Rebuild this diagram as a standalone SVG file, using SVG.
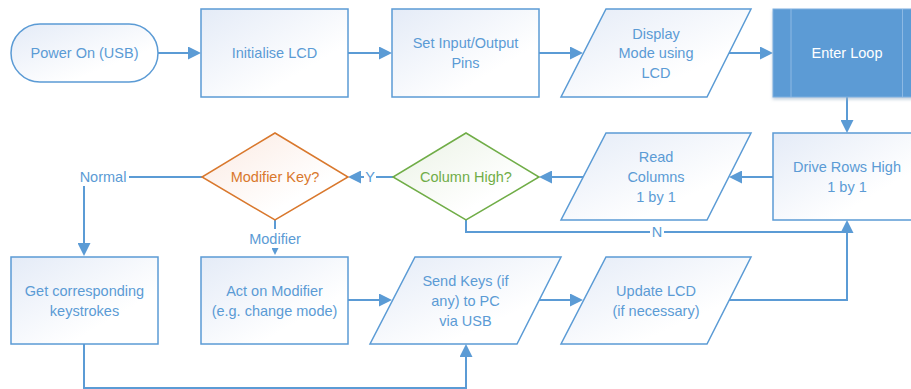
<svg xmlns="http://www.w3.org/2000/svg" width="911" height="389" viewBox="0 0 911 389">
  <defs>
    <linearGradient id="fillBlue" x1="0" y1="0" x2="1" y2="1">
      <stop offset="0" stop-color="#E4EBF7"/>
      <stop offset="0.7" stop-color="#FFFFFF"/>
    </linearGradient>
    <linearGradient id="fillOrange" x1="0" y1="0" x2="1" y2="1">
      <stop offset="0" stop-color="#FBEAE2"/>
      <stop offset="0.7" stop-color="#FFFFFF"/>
    </linearGradient>
    <linearGradient id="fillGreen" x1="0" y1="0" x2="1" y2="1">
      <stop offset="0" stop-color="#EAF2E4"/>
      <stop offset="0.7" stop-color="#FFFFFF"/>
    </linearGradient>
    <filter id="shadow" x="-10%" y="-10%" width="130%" height="140%">
      <feDropShadow dx="0" dy="2" stdDeviation="1.5" flood-color="#9DB3C8" flood-opacity="0.6"/>
    </filter>
    <marker id="arrow" markerUnits="userSpaceOnUse" markerWidth="13" markerHeight="13" refX="9" refY="6.5" orient="auto">
      <path d="M0,0 L13,6.5 L0,13 Z" fill="#5B9BD5"/>
    </marker>
    <marker id="arrowSmall" markerUnits="userSpaceOnUse" markerWidth="7" markerHeight="7" refX="4" refY="3.5" orient="auto">
      <path d="M0,0 L7,3.5 L0,7 Z" fill="#5B9BD5"/>
    </marker>
    <style>
      .box { fill: url(#fillBlue); stroke: #5B9BD5; stroke-width: 1.5; }
      .txt { font-family: "Liberation Sans", Arial, sans-serif; font-size: 14.5px; fill: #5B9BD5; text-anchor: middle; }
      .white { fill: #FFFFFF; }
      .orange { fill: #D9782D; }
      .green { fill: #70AD47; }
      .conn { fill: none; stroke: #5B9BD5; stroke-width: 2; }
      .arr { marker-end: url(#arrow); }
      .bg { fill: #FFFFFF; }
    </style>
  </defs>

  <g id="connectors">
    <path class="conn arr" d="M158,53 H197"/>
    <path class="conn arr" d="M348,53 H388"/>
    <path class="conn arr" d="M539,53 H579"/>
    <path class="conn arr" d="M729,53 H769"/>
    <path class="conn arr" d="M847,97 V129"/>
    <path class="conn arr" d="M773,177 H733"/>
    <path class="conn arr" d="M583,177 H543"/>
    <path class="conn arr" d="M393,177 H352"/>
    <path class="conn arr" d="M202,177 H84 V252"/>
    <path class="conn" d="M275,220 V252" marker-end="url(#arrowSmall)"/>
    <path class="conn arr" d="M348,300 H388"/>
    <path class="conn arr" d="M539,300 H579"/>
    <path class="conn arr" d="M729,300 H847 V224"/>
    <path class="conn" d="M466,220 V232 H847"/>
    <path class="conn arr" d="M84,344 V388 H466 V348"/>

    <!-- connector labels -->
    <rect class="bg" x="76" y="167" width="53" height="19"/>
    <text class="txt" x="103" y="182">Normal</text>
    <rect class="bg" x="364" y="168" width="12" height="18"/>
    <text class="txt" x="370" y="182">Y</text>
    <rect class="bg" x="244" y="229" width="62" height="19"/>
    <text class="txt" x="275" y="244">Modifier</text>
    <rect class="bg" x="650" y="224" width="14" height="17"/>
    <text class="txt" x="657" y="237">N</text>
  </g>

  <g id="power-on">
    <rect class="box" x="11" y="24" width="147" height="58" rx="29" ry="29"/>
    <text class="txt" x="84.5" y="58">Power On (USB)</text>
  </g>

  <g id="initialise-lcd">
    <rect class="box" x="201" y="9" width="147" height="88"/>
    <text class="txt" x="274.5" y="58">Initialise LCD</text>
  </g>

  <g id="set-pins">
    <rect class="box" x="392" y="9" width="147" height="88"/>
    <text class="txt" x="465.5" y="48">Set Input/Output</text>
    <text class="txt" x="465.5" y="68">Pins</text>
  </g>

  <g id="display-mode">
    <polygon class="box" points="606,9 751,9 707,97 561,97"/>
    <text class="txt" x="656" y="39">Display</text>
    <text class="txt" x="656" y="58">Mode using</text>
    <text class="txt" x="656" y="78">LCD</text>
  </g>

  <g id="enter-loop">
    <rect x="773" y="9" width="147" height="88" fill="#5B9BD5" stroke="#7FB0E0" stroke-width="1" filter="url(#shadow)"/>
    <line x1="791" y1="9" x2="791" y2="97" stroke="#8DB9E4" stroke-width="1"/>
    <line x1="902.5" y1="9" x2="902.5" y2="97" stroke="#8DB9E4" stroke-width="1"/>
    <text class="txt white" x="847" y="58">Enter Loop</text>
  </g>

  <g id="drive-rows">
    <rect class="box" x="773" y="133" width="147" height="87"/>
    <text class="txt" x="847" y="172">Drive Rows High</text>
    <text class="txt" x="847" y="192">1 by 1</text>
  </g>

  <g id="read-columns">
    <polygon class="box" points="606,133 751,133 707,220 561,220"/>
    <text class="txt" x="656" y="162">Read</text>
    <text class="txt" x="656" y="182">Columns</text>
    <text class="txt" x="656" y="202">1 by 1</text>
  </g>

  <g id="column-high">
    <polygon points="466,133 539,177 466,220 393,177" fill="url(#fillGreen)" stroke="#70AD47" stroke-width="1.5"/>
    <text class="txt green" x="466" y="182">Column High?</text>
  </g>

  <g id="modifier-key">
    <polygon points="275,133 348,177 275,220 202,177" fill="url(#fillOrange)" stroke="#D9782D" stroke-width="1.5"/>
    <text class="txt orange" x="275" y="182">Modifier Key?</text>
  </g>

  <g id="get-keystrokes">
    <rect class="box" x="11" y="257" width="147" height="87"/>
    <text class="txt" x="84.5" y="296">Get corresponding</text>
    <text class="txt" x="84.5" y="316">keystrokes</text>
  </g>

  <g id="act-on-modifier">
    <rect class="box" x="201" y="257" width="147" height="87"/>
    <text class="txt" x="274.5" y="296">Act on Modifier</text>
    <text class="txt" x="274.5" y="316">(e.g. change mode)</text>
  </g>

  <g id="send-keys">
    <polygon class="box" points="415,257 561,257 517,344 370,344"/>
    <text class="txt" x="465.5" y="286">Send Keys (if</text>
    <text class="txt" x="465.5" y="306">any) to PC</text>
    <text class="txt" x="465.5" y="326">via USB</text>
  </g>

  <g id="update-lcd">
    <polygon class="box" points="606,257 751,257 707,344 561,344"/>
    <text class="txt" x="656" y="296">Update LCD</text>
    <text class="txt" x="656" y="316">(if necessary)</text>
  </g>
</svg>
